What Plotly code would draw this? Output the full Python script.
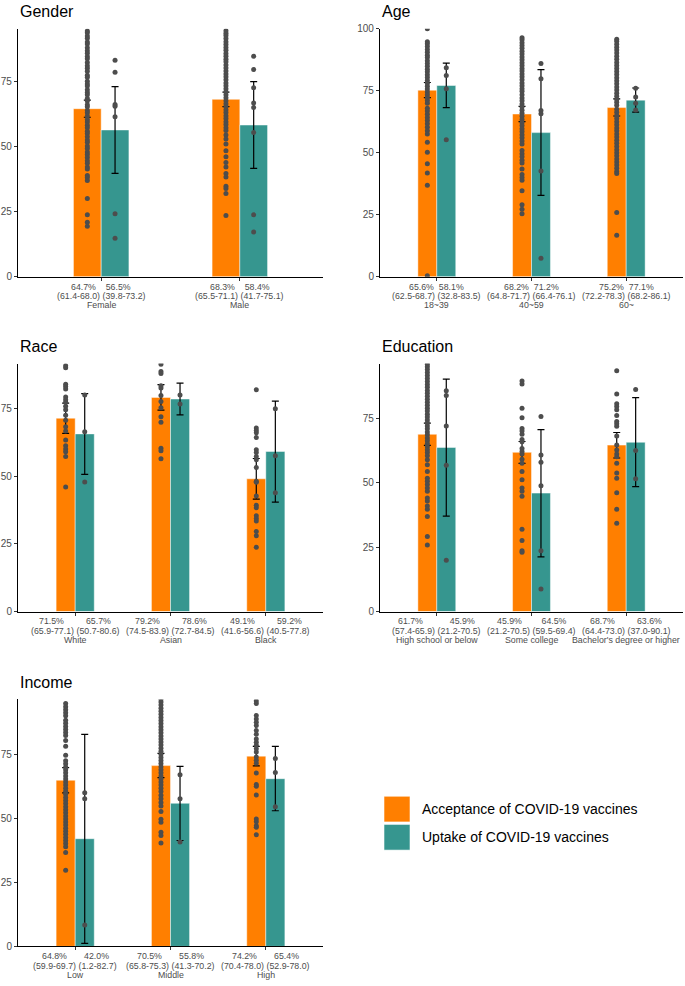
import numpy as np
import plotly.graph_objects as go

W, H = 685, 986
ACC_COLOR = "#FF7F00"
UPT_COLOR = "#36968F"
PT_COLOR = "#4D4D4D"
TXT_COLOR = "#4D4D4D"
FONT = "Liberation Sans, Arial, sans-serif"

# ---------------- Gender ----------------
gender_cats = ["Female", "Male"]
gender_acc = [64.7, 68.3]
gender_acc_lo = [61.4, 65.5]
gender_acc_hi = [68.0, 71.1]
gender_upt = [56.5, 58.4]
gender_upt_lo = [39.8, 41.7]
gender_upt_hi = [73.2, 75.1]
gender_lab_acc = ["64.7%", "68.3%"]
gender_lab_acc_ci = ["(61.4-68.0)", "(65.5-71.1)"]
gender_lab_upt = ["56.5%", "58.4%"]
gender_lab_upt_ci = ["(39.8-73.2)", "(41.7-75.1)"]
gender_pts_acc = [
    [94.6, 93.9, 92.7, 91.8, 90.4, 89.6, 88.2, 87.0, 86.1, 84.8, 83.9, 82.5, 81.2, 80.3, 79.1,
     77.6, 76.8, 75.3, 74.2, 73.4, 72.0, 70.9, 70.1, 68.6, 67.7, 66.2, 65.4, 64.0, 63.1, 61.9,
     60.5, 59.6, 58.3, 57.4, 56.0, 55.1, 53.9, 52.6, 51.8, 50.3, 49.4, 48.0, 47.1, 45.9, 44.6,
     43.7, 42.2, 41.5, 39.0, 38.2, 37.0, 30.1, 23.8, 21.0, 19.4],
    [94.7, 93.8, 92.9, 91.7, 90.5, 89.4, 88.3, 87.2, 86.0, 84.9, 83.7, 82.8, 81.5, 80.4, 79.2,
     78.1, 77.0, 75.8, 74.6, 73.5, 72.4, 71.2, 70.1, 68.9, 67.8, 66.6, 65.5, 64.3, 63.2, 62.0,
     60.9, 59.7, 58.6, 57.4, 56.3, 54.6, 53.0, 51.1, 48.5, 46.2, 44.0, 42.2, 39.7, 38.4, 34.8,
     34.0, 32.0, 23.6],
]
gender_pts_upt = [
    [83.4, 78.7, 66.3, 65.6, 61.6, 24.2, 14.8],
    [84.9, 79.8, 72.8, 66.9, 65.2, 55.5, 23.8, 17.2],
]

# ---------------- Age ----------------
age_cats = ["18~39", "40~59", "60~"]
age_acc = [75.2, 65.6, 68.2]
age_acc_lo = [72.2, 62.5, 64.8]
age_acc_hi = [78.3, 68.7, 71.7]
age_upt = [77.1, 58.1, 71.2]
age_upt_lo = [68.2, 32.8, 66.4]
age_upt_hi = [86.1, 83.5, 76.1]
age_lab_acc = ["65.6%", "68.2%", "75.2%"]
age_lab_acc_ci = ["(62.5-68.7)", "(64.8-71.7)", "(72.2-78.3)"]
age_lab_upt = ["58.1%", "71.2%", "77.1%"]
age_lab_upt_ci = ["(32.8-83.5)", "(66.4-76.1)", "(68.2-86.1)"]
age_pts_acc = [
    [100.0, 94.7, 93.9, 92.8, 91.6, 90.5, 89.3, 88.4, 87.1, 86.0, 84.9, 83.7, 82.6, 81.4, 80.3,
     79.1, 78.0, 76.8, 75.7, 74.5, 73.4, 72.3, 71.0, 69.9, 67.9, 66.8, 65.5, 64.2, 63.0, 61.7,
     60.3, 58.8, 57.5, 54.2, 50.2, 45.5, 41.8, 36.9, 0.4],
    [96.4, 95.6, 94.3, 93.2, 92.1, 90.9, 89.8, 88.6, 87.5, 86.3, 85.2, 84.0, 82.9, 81.7, 80.6,
     79.4, 78.1, 77.0, 75.8, 74.8, 73.4, 72.1, 70.9, 69.6, 68.4, 67.1, 65.9, 64.7, 63.4, 62.2,
     61.0, 59.7, 58.5, 57.2, 56.0, 54.7, 53.5, 50.9, 49.6, 48.4, 47.0, 45.8, 43.4, 41.2, 40.0,
     38.9, 34.7, 29.0, 27.2, 25.4],
    [95.8, 94.9, 93.7, 92.5, 91.4, 90.2, 88.9, 87.7, 86.4, 85.2, 84.0, 82.7, 81.5, 80.2, 79.0,
     77.8, 76.5, 75.3, 74.0, 72.8, 71.5, 70.3, 69.1, 67.5, 66.3, 65.0, 63.8, 62.5, 61.3, 60.0,
     58.8, 57.5, 56.3, 55.0, 53.8, 52.5, 51.2, 50.0, 48.8, 47.5, 46.2, 45.0, 43.7, 42.4, 41.6,
     25.9, 16.7],
]
age_pts_upt = [
    [84.3, 81.1, 75.8, 55.2],
    [86.0, 79.8, 67.0, 65.7, 42.6, 7.4],
    [76.0, 72.5, 69.9, 67.2],
]

# ---------------- Race ----------------
race_cats = ["White", "Asian", "Black"]
race_acc = [71.5, 79.2, 49.1]
race_acc_lo = [65.9, 74.5, 41.6]
race_acc_hi = [77.1, 83.9, 56.6]
race_upt = [65.7, 78.6, 59.2]
race_upt_lo = [50.7, 72.7, 40.5]
race_upt_hi = [80.6, 84.5, 77.8]
race_lab_acc = ["71.5%", "79.2%", "49.1%"]
race_lab_acc_ci = ["(65.9-77.1)", "(74.5-83.9)", "(41.6-56.6)"]
race_lab_upt = ["65.7%", "78.6%", "59.2%"]
race_lab_upt_ci = ["(50.7-80.6)", "(72.7-84.5)", "(40.5-77.8)"]
race_pts_acc = [
    [90.9, 90.2, 84.1, 83.2, 82.3, 79.3, 78.3, 77.4, 75.9, 74.6, 72.6, 70.7, 68.3, 66.8, 63.4,
     61.3, 60.1, 59.1, 57.3, 46.1],
    [91.5, 88.8, 88.0, 83.5, 82.7, 79.9, 77.7, 75.4, 72.0, 70.0, 60.4, 59.5, 56.5],
    [82.0, 67.9, 67.0, 66.1, 64.4, 59.8, 58.8, 57.3, 56.1, 53.3, 48.2, 47.8, 42.7, 39.3, 38.4,
     35.4, 34.4, 33.5, 29.6, 28.0, 23.8],
]
race_pts_upt = [
    [80.1, 66.5, 47.9],
    [80.1, 76.8],
    [75.0, 57.6, 43.9],
]

# ---------------- Education ----------------
edu_cats = ["High school or below", "Some college", "Bachelor's degree or higher"]
edu_acc = [68.7, 61.7, 64.5]
edu_acc_lo = [64.4, 57.4, 59.5]
edu_acc_hi = [73.0, 65.9, 69.4]
edu_upt = [63.6, 45.9, 65.6]
edu_upt_lo = [37.0, 21.2, 48.4]
edu_upt_hi = [90.1, 70.5, 82.9]
edu_lab_acc = ["61.7%", "45.9%", "68.7%"]
edu_lab_acc_ci = ["(57.4-65.9)", "(21.2-70.5)", "(64.4-73.0)"]
edu_lab_upt = ["45.9%", "64.5%", "63.6%"]
edu_lab_upt_ci = ["(21.2-70.5)", "(59.5-69.4)", "(37.0-90.1)"]
edu_pts_acc = [
    [95.8, 94.9, 93.8, 92.6, 91.5, 90.3, 89.2, 88.0, 86.9, 85.7, 84.6, 83.4, 82.3, 81.1, 80.0,
     78.8, 77.7, 76.5, 75.4, 74.2, 73.1, 71.9, 70.8, 69.6, 68.5, 67.3, 66.2, 65.0, 63.9, 62.7,
     61.6, 60.4, 58.8, 56.9, 54.3, 51.7, 50.5, 49.2, 47.9, 46.6, 44.0, 42.8, 40.9, 39.6, 36.8,
     29.1, 25.8],
    [89.4, 88.2, 78.8, 75.1, 70.9, 70.0, 68.7, 66.7, 65.8, 63.2, 62.0, 61.1, 59.0, 57.5, 54.3,
     51.1, 47.9, 46.6, 44.7, 31.9, 27.5, 23.6, 23.0],
    [93.3, 84.3, 80.5, 79.5, 78.2, 76.0, 73.7, 72.8, 71.8, 68.0, 64.5, 62.6, 61.1, 60.0, 57.5,
     53.7, 51.7, 46.0, 39.6, 34.2],
]
edu_pts_upt = [
    [85.6, 83.7, 71.9, 56.7, 19.9],
    [75.6, 60.7, 57.9, 48.8, 23.6, 8.7],
    [86.1, 62.4, 51.5],
]

# ---------------- Income ----------------
inc_cats = ["Low", "Middle", "High"]
inc_acc = [64.8, 70.5, 74.2]
inc_acc_lo = [59.9, 65.8, 70.4]
inc_acc_hi = [69.7, 75.3, 78.0]
inc_upt = [42.0, 55.8, 65.4]
inc_upt_lo = [1.2, 41.3, 52.9]
inc_upt_hi = [82.7, 70.2, 78.0]
inc_lab_acc = ["64.8%", "70.5%", "74.2%"]
inc_lab_acc_ci = ["(59.9-69.7)", "(65.8-75.3)", "(70.4-78.0)"]
inc_lab_upt = ["42.0%", "55.8%", "65.4%"]
inc_lab_upt_ci = ["(1.2-82.7)", "(41.3-70.2)", "(52.9-78.0)"]
inc_pts_acc = [
    [94.7, 93.5, 92.3, 91.1, 89.9, 88.2, 87.0, 85.8, 84.6, 83.4, 82.2, 80.3, 78.1, 74.5, 72.4,
     71.2, 70.0, 68.9, 67.7, 66.5, 65.3, 64.1, 62.9, 61.7, 60.5, 59.3, 58.1, 56.9, 55.7, 54.5,
     53.3, 52.1, 50.9, 49.7, 48.5, 47.3, 46.1, 44.9, 43.7, 42.5, 41.3, 40.1, 38.9, 36.6, 29.7],
    [96.4, 95.3, 94.1, 92.9, 91.7, 90.5, 89.3, 88.1, 86.9, 85.7, 84.5, 83.3, 82.1, 80.9, 79.7,
     78.5, 77.3, 76.1, 74.9, 73.7, 72.5, 71.3, 70.1, 68.9, 67.7, 66.5, 65.3, 64.1, 62.9, 61.7,
     60.4, 58.9, 57.6, 56.1, 54.8, 52.6, 49.6, 48.4, 44.5, 43.3, 40.3],
    [95.7, 94.7, 90.0, 88.7, 87.4, 86.1, 84.2, 82.7, 80.9, 79.6, 78.4, 77.1, 75.8, 73.9, 72.6,
     71.4, 67.6, 63.1, 62.5, 59.0, 49.7, 48.6, 47.1, 46.5, 43.5],
]
inc_pts_upt = [
    [59.9, 57.6, 8.4],
    [66.9, 57.6, 40.7],
    [73.3, 67.8, 54.5],
]

legend_names = ["Acceptance of COVID-19 vaccines", "Uptake of COVID-19 vaccines"]

# ---------------- layout (pixels) ----------------
panels = [
    dict(title="Gender", cats=gender_cats, acc=gender_acc, acc_lo=gender_acc_lo, acc_hi=gender_acc_hi,
         upt=gender_upt, upt_lo=gender_upt_lo, upt_hi=gender_upt_hi,
         la=gender_lab_acc, lac=gender_lab_acc_ci, lu=gender_lab_upt, luc=gender_lab_upt_ci,
         pa=gender_pts_acc, pu=gender_pts_upt,
         px=(18, 323), py=(23, 274), ymax=95.5, yt=[0, 25, 50, 75], gaps=[4, 4], ty=6),
    dict(title="Age", cats=age_cats, acc=age_acc, acc_lo=age_acc_lo, acc_hi=age_acc_hi,
         upt=age_upt, upt_lo=age_upt_lo, upt_hi=age_upt_hi,
         la=age_lab_acc, lac=age_lab_acc_ci, lu=age_lab_upt, luc=age_lab_upt_ci,
         pa=age_pts_acc, pu=age_pts_upt,
         px=(380, 683), py=(23, 274), ymax=100, yt=[0, 25, 50, 75, 100], gaps=[2, 2, 2], ty=6),
    dict(title="Race", cats=race_cats, acc=race_acc, acc_lo=race_acc_lo, acc_hi=race_acc_hi,
         upt=race_upt, upt_lo=race_upt_lo, upt_hi=race_upt_hi,
         la=race_lab_acc, lac=race_lab_acc_ci, lu=race_lab_upt, luc=race_lab_upt_ci,
         pa=race_pts_acc, pu=race_pts_upt,
         px=(18, 323), py=(362, 613), ymax=91.7, yt=[0, 25, 50, 75], gaps=[9, 9, 9], ty=345),
    dict(title="Education", cats=edu_cats, acc=edu_acc, acc_lo=edu_acc_lo, acc_hi=edu_acc_hi,
         upt=edu_upt, upt_lo=edu_upt_lo, upt_hi=edu_upt_hi,
         la=edu_lab_acc, lac=edu_lab_acc_ci, lu=edu_lab_upt, luc=edu_lab_upt_ci,
         pa=edu_pts_acc, pu=edu_pts_upt,
         px=(380, 683), py=(362, 613), ymax=96.1, yt=[0, 25, 50, 75], gaps=[11, 8, 9], ty=345),
    dict(title="Income", cats=inc_cats, acc=inc_acc, acc_lo=inc_acc_lo, acc_hi=inc_acc_hi,
         upt=inc_upt, upt_lo=inc_upt_lo, upt_hi=inc_upt_hi,
         la=inc_lab_acc, lac=inc_lab_acc_ci, lu=inc_lab_upt, luc=inc_lab_upt_ci,
         pa=inc_pts_acc, pu=inc_pts_upt,
         px=(18, 323), py=(702, 952), ymax=96.3, yt=[0, 25, 50, 75], gaps=[7, 7, 7], ty=685),
]
LABEL_LINE_OFFSETS = [10, 19.5, 29]  # px below the x axis line

NB = "\u00a0"
fig = go.Figure()
annotations = []
shapes = []
layout_axes = {}

for k, p in enumerate(panels, start=1):
    xa = "x" if k == 1 else f"x{k}"
    ya = "y" if k == 1 else f"y{k}"
    n = len(p["cats"])
    pos = np.arange(1, n + 1, dtype=float)
    acc = np.array(p["acc"]); upt = np.array(p["upt"])
    for vals, lo, hi, col, off in [
        (acc, np.array(p["acc_lo"]), np.array(p["acc_hi"]), ACC_COLOR, -0.1),
        (upt, np.array(p["upt_lo"]), np.array(p["upt_hi"]), UPT_COLOR, 0.1),
    ]:
        fig.add_trace(go.Bar(
            x=pos + off, y=vals, width=0.2, xaxis=xa, yaxis=ya,
            marker=dict(color=col, line=dict(color="rgba(255,255,255,0.65)", width=0.7)),
            error_y=dict(type="data", symmetric=False, array=hi - vals, arrayminus=vals - lo,
                         color="black", thickness=1.2, width=3.5),
            showlegend=False, hoverinfo="skip"))
    for pts_list, off in [(p["pa"], -0.1), (p["pu"], 0.1)]:
        xs, ys = [], []
        for i, pts in enumerate(pts_list):
            xs += [pos[i] + off] * len(pts)
            ys += pts
        fig.add_trace(go.Scatter(
            x=xs, y=ys, mode="markers", xaxis=xa, yaxis=ya,
            marker=dict(color=PT_COLOR, size=5, line=dict(width=0)),
            showlegend=False, hoverinfo="skip"))

    # three-line category labels under each group
    for i in range(n):
        lines = [f"{p['la'][i]}{NB * p['gaps'][i]}{p['lu'][i]}",
                 f"{p['lac'][i]} {p['luc'][i]}",
                 p["cats"][i]]
        for line, dy in zip(lines, LABEL_LINE_OFFSETS):
            annotations.append(dict(text=line, xref=xa, x=pos[i], yref="paper",
                                    y=1 - (p["py"][1] + dy) / H, xanchor="center", yanchor="middle",
                                    showarrow=False,
                                    font=dict(size=8.8, color=TXT_COLOR, family=FONT)))

    common = dict(showline=True, linecolor="black", linewidth=1.1, ticks="outside", ticklen=3,
                  tickwidth=1, tickcolor="#333333", showgrid=False, zeroline=False, fixedrange=True)
    layout_axes["xaxis" if k == 1 else f"xaxis{k}"] = dict(
        domain=[p["px"][0] / W, p["px"][1] / W], anchor=ya, range=[0.4, n + 0.6],
        tickmode="array", tickvals=list(pos), showticklabels=False, **common)
    layout_axes["yaxis" if k == 1 else f"yaxis{k}"] = dict(
        domain=[1 - p["py"][1] / H, 1 - p["py"][0] / H], anchor=xa, range=[0, p["ymax"]],
        tickmode="array", tickvals=p["yt"],
        tickfont=dict(size=10, color=TXT_COLOR, family=FONT), **common)
    annotations.append(dict(text=p["title"], xref="paper", yref="paper",
                            x=p["px"][0] / W, y=1 - p["ty"] / H, xanchor="left", yanchor="middle",
                            showarrow=False, font=dict(size=16, color="black", family=FONT)))

# manual legend
for j, (name, col) in enumerate(zip(legend_names, [ACC_COLOR, UPT_COLOR])):
    y0 = 800 + j * 28.5
    shapes.append(dict(type="rect", xref="paper", yref="paper",
                       x0=384 / W, x1=410 / W, y0=1 - (y0 + 26) / H, y1=1 - y0 / H,
                       fillcolor=col, line=dict(color="rgba(255,255,255,0.7)", width=0.8)))
    annotations.append(dict(text=name, xref="paper", yref="paper", x=420 / W, y=1 - (y0 + 13) / H,
                            xanchor="left", yanchor="middle", showarrow=False,
                            font=dict(size=14, color="black", family=FONT)))

fig.update_layout(
    width=W, height=H, margin=dict(l=0, r=0, t=0, b=0),
    paper_bgcolor="white", plot_bgcolor="white",
    font=dict(family=FONT, color=TXT_COLOR),
    showlegend=False, annotations=annotations, shapes=shapes, **layout_axes)

fig.write_html("out.html")
